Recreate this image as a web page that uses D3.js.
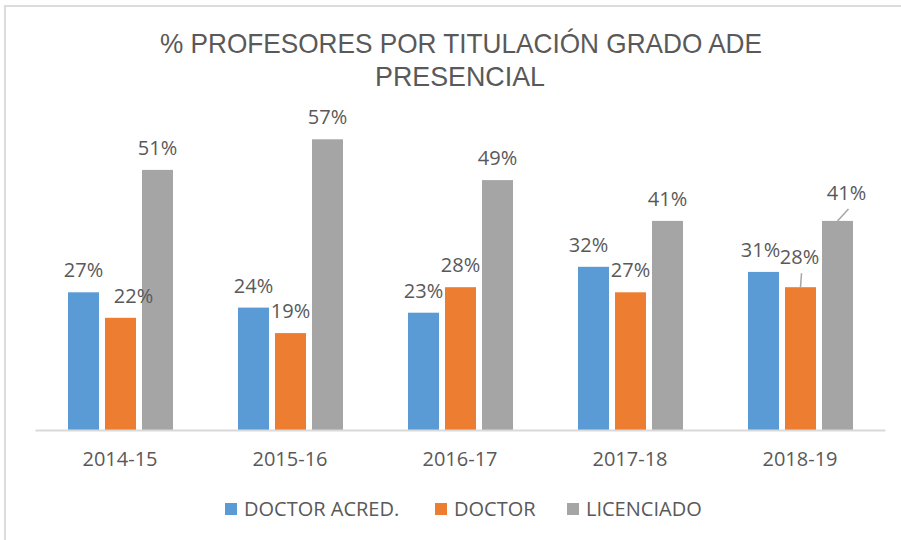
<!DOCTYPE html>
<html>
<head>
<meta charset="utf-8">
<script src="https://cdn.jsdelivr.net/npm/d3@7"></script>
<style>
  body { margin: 0; background: #fff; }
  text { font-family: "Open Sans", "Noto Sans", sans-serif; fill: #595959; }
</style>
</head>
<body>
<script>
const w = 901;
const h = 540;

const years = ["2014-15", "2015-16", "2016-17", "2017-18", "2018-19"];
const seriesNames = ["DOCTOR ACRED.", "DOCTOR", "LICENCIADO"];
const doctorAcred = [27, 24, 23, 32, 31];
const doctor = [22, 19, 28, 27, 28];
const licenciado = [51, 57, 49, 41, 41];
const colors = ["#5B9BD5", "#ED7D31", "#A5A5A5"];

// label nudges for the ones Excel moved by hand (series index, year index, dx, dy)
const labelMoves = [
  [1, 0, 13, 0],
  [0, 3, -5, 0],
  [0, 4, -3, 0],
  [1, 4, -1, -8],
  [2, 4, 9, -6]
];

const values = [doctorAcred, doctor, licenciado];
const rows = [];
values.forEach(function (arr, s) {
  arr.forEach(function (v, i) {
    rows.push({ s: s, i: i, year: years[i], value: v, dx: 0, dy: 0 });
  });
});
labelMoves.forEach(function (m) {
  const r = rows.find(function (d) { return d.s === m[0] && d.i === m[1]; });
  r.dx = m[2];
  r.dy = m[3];
});

const left = 35, right = 885, baseY = 430;

const svg = d3.select("body").append("svg").attr("width", w).attr("height", h);

// chart frame (only top and left edges show in the screenshot)
svg.append("path")
  .attr("d", "M5," + h + "V6H" + w)
  .attr("fill", "none").attr("stroke", "#dcdcdc").attr("stroke-width", 2);

const titleFont = "'Liberation Sans Narrow', 'Liberation Sans', sans-serif";
svg.append("text").attr("x", 461).attr("y", 53)
  .attr("text-anchor", "middle").style("font-family", titleFont)
  .style("font-size", "28px")
  .attr("textLength", 602).attr("lengthAdjust", "spacingAndGlyphs")
  .text("% PROFESORES POR TITULACIÓN GRADO ADE");
svg.append("text").attr("x", 460).attr("y", 86)
  .attr("text-anchor", "middle").style("font-family", titleFont)
  .style("font-size", "28px")
  .attr("textLength", 170).attr("lengthAdjust", "spacingAndGlyphs")
  .text("PRESENCIAL");

const xScale = d3.scaleBand().domain(years).range([left, right]);
const inner = d3.scaleBand().domain(d3.range(3)).range([0, 105]).paddingInner(6 / 37);
const yScale = d3.scaleLinear().domain([0, 60]).range([baseY, baseY - 306]);

function barX(d) {
  return xScale(d.year) + xScale.bandwidth() / 2 - 52 + inner(d.s);
}

svg.append("g").selectAll("rect").data(rows).enter().append("rect")
  .attr("x", barX)
  .attr("y", function (d) { return yScale(d.value); })
  .attr("width", inner.bandwidth())
  .attr("height", function (d) { return baseY - yScale(d.value); })
  .attr("fill", function (d) { return colors[d.s]; });

// leader lines for moved labels
svg.append("g").selectAll("line").data(rows.filter(function (d) { return d.dy < 0; }))
  .enter().append("line")
  .attr("x1", function (d) { return barX(d) + inner.bandwidth() / 2; })
  .attr("y1", function (d) { return yScale(d.value); })
  .attr("x2", function (d) { return barX(d) + inner.bandwidth() / 2 + d.dx + 2; })
  .attr("y2", function (d) { return yScale(d.value) + d.dy - 6; })
  .attr("stroke", "#a6a6a6").attr("stroke-width", 1.5);

svg.append("g").selectAll("text").data(rows).enter().append("text")
  .attr("x", function (d) { return barX(d) + inner.bandwidth() / 2 + d.dx; })
  .attr("y", function (d) { return yScale(d.value) - 15 + d.dy; })
  .attr("text-anchor", "middle")
  .style("font-size", "20px")
  .text(function (d) { return d.value + "%"; });

const xAxis = d3.axisBottom(xScale).tickSize(0).tickPadding(22);
const gx = svg.append("g").attr("transform", "translate(0," + baseY + ")").call(xAxis);
gx.select(".domain").attr("stroke", "#d9d9d9").attr("stroke-width", 2);
gx.selectAll("text").style("font-size", "20px").style("font-family", "'Open Sans', sans-serif").attr("fill", "#595959");

// legend
const legendX = [225, 435, 567];
const legend = svg.append("g").selectAll("g").data(seriesNames).enter().append("g")
  .attr("transform", function (d, i) { return "translate(" + legendX[i] + ",503)"; });
legend.append("rect").attr("width", 12).attr("height", 12)
  .attr("fill", function (d, i) { return colors[i]; });
legend.append("text").attr("x", 19).attr("y", 13)
  .style("font-size", "20px").text(function (d) { return d; });
</script>
</body>
</html>
